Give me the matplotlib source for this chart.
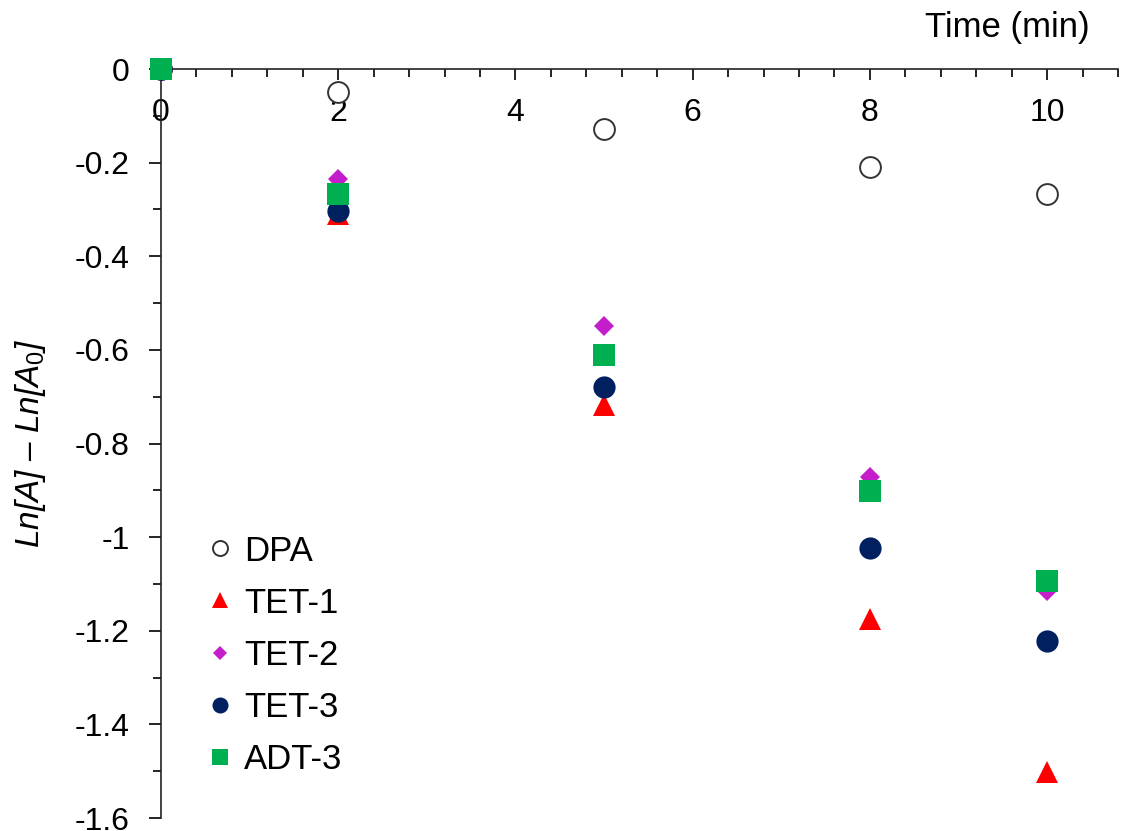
import matplotlib
matplotlib.use("Agg")
import matplotlib.pyplot as plt
from matplotlib.ticker import MultipleLocator

plt.rcParams['font.family'] = ['Liberation Sans', 'DejaVu Sans']
plt.rcParams['mathtext.fontset'] = 'custom'
plt.rcParams['mathtext.it'] = 'Liberation Sans:italic'
plt.rcParams['mathtext.rm'] = 'Liberation Sans'

time = [0, 2, 5, 8, 10]
series_names = ["DPA", "TET-1", "TET-2", "TET-3", "ADT-3"]
dpa = [0, -0.049, -0.128, -0.210, -0.268]
tet1 = [0, -0.31, -0.717, -1.174, -1.502]
tet2 = [0, -0.236, -0.549, -0.872, -1.116]
tet3 = [0, -0.304, -0.679, -1.023, -1.222]
adt3 = [0, -0.268, -0.611, -0.902, -1.094]

fig = plt.figure(figsize=(11.22, 8.31), dpi=100)
ax = fig.add_axes([161/1122, 13/831, (1118-161)/1122, (818-69)/831])

styles = [
    dict(marker='o', ms=15, mfc='white', mec='#333333', mew=1.4),
    dict(marker='^', ms=16, mfc='#FF0000', mec='#FF0000', mew=0),
    dict(marker='D', ms=10.5, mfc='#C41DCB', mec='#C41DCB', mew=0),
    dict(marker='o', ms=16, mfc='#002060', mec='#002060', mew=0),
    dict(marker='s', ms=15.5, mfc='#00B050', mec='#00B050', mew=0),
]
for name, ys, st in zip(series_names, [dpa, tet1, tet2, tet3, adt3], styles):
    ax.plot(time, ys, linestyle='none', label=name, clip_on=False, zorder=3, **st)

ax.set_xlim(0, 10.8)
ax.set_ylim(-1.6, 0)

ax.spines['top'].set_visible(False)
ax.spines['right'].set_visible(False)
ax.spines['bottom'].set_position(('data', 0))
for s in ['left', 'bottom']:
    ax.spines[s].set_linewidth(1.2)
    ax.spines[s].set_color('#222222')

ax.xaxis.set_major_locator(MultipleLocator(2))
ax.xaxis.set_minor_locator(MultipleLocator(0.4))
ax.yaxis.set_major_locator(MultipleLocator(0.2))
ax.yaxis.set_minor_locator(MultipleLocator(0.1))
ax.tick_params(axis='x', which='major', direction='out', length=8, width=1.2, pad=13, labelsize=23)
ax.tick_params(axis='x', which='minor', direction='out', length=5.5, width=1.2)
ax.tick_params(axis='y', which='major', direction='out', length=8.5, width=1.2, pad=14, labelsize=23)
ax.tick_params(axis='y', which='minor', direction='out', length=5.5, width=1.2)

ax.set_xticks([0, 2, 4, 6, 8, 10])
ax.set_xticklabels(['0', '2', '4', '6', '8', '10'])
ax.set_yticks([0, -0.2, -0.4, -0.6, -0.8, -1.0, -1.2, -1.4, -1.6])
ax.set_yticklabels(['0', '-0.2', '-0.4', '-0.6', '-0.8', '-1', '-1.2', '-1.4', '-1.6'])

ax.set_ylabel(r'Ln[A] – Ln[$A_0$]', fontsize=24, style='italic', labelpad=19)
fig.text(1090/1122, 1 - 28/831, 'Time (min)', fontsize=25, ha='right', va='center')

leg = ax.legend(loc='upper left', bbox_to_anchor=(0.036, 0.397), frameon=False,
                fontsize=25, markerscale=0.72, handlelength=0.6, handletextpad=0.4,
                labelspacing=0.55, borderaxespad=0)

fig.savefig('out.png', dpi=100)
